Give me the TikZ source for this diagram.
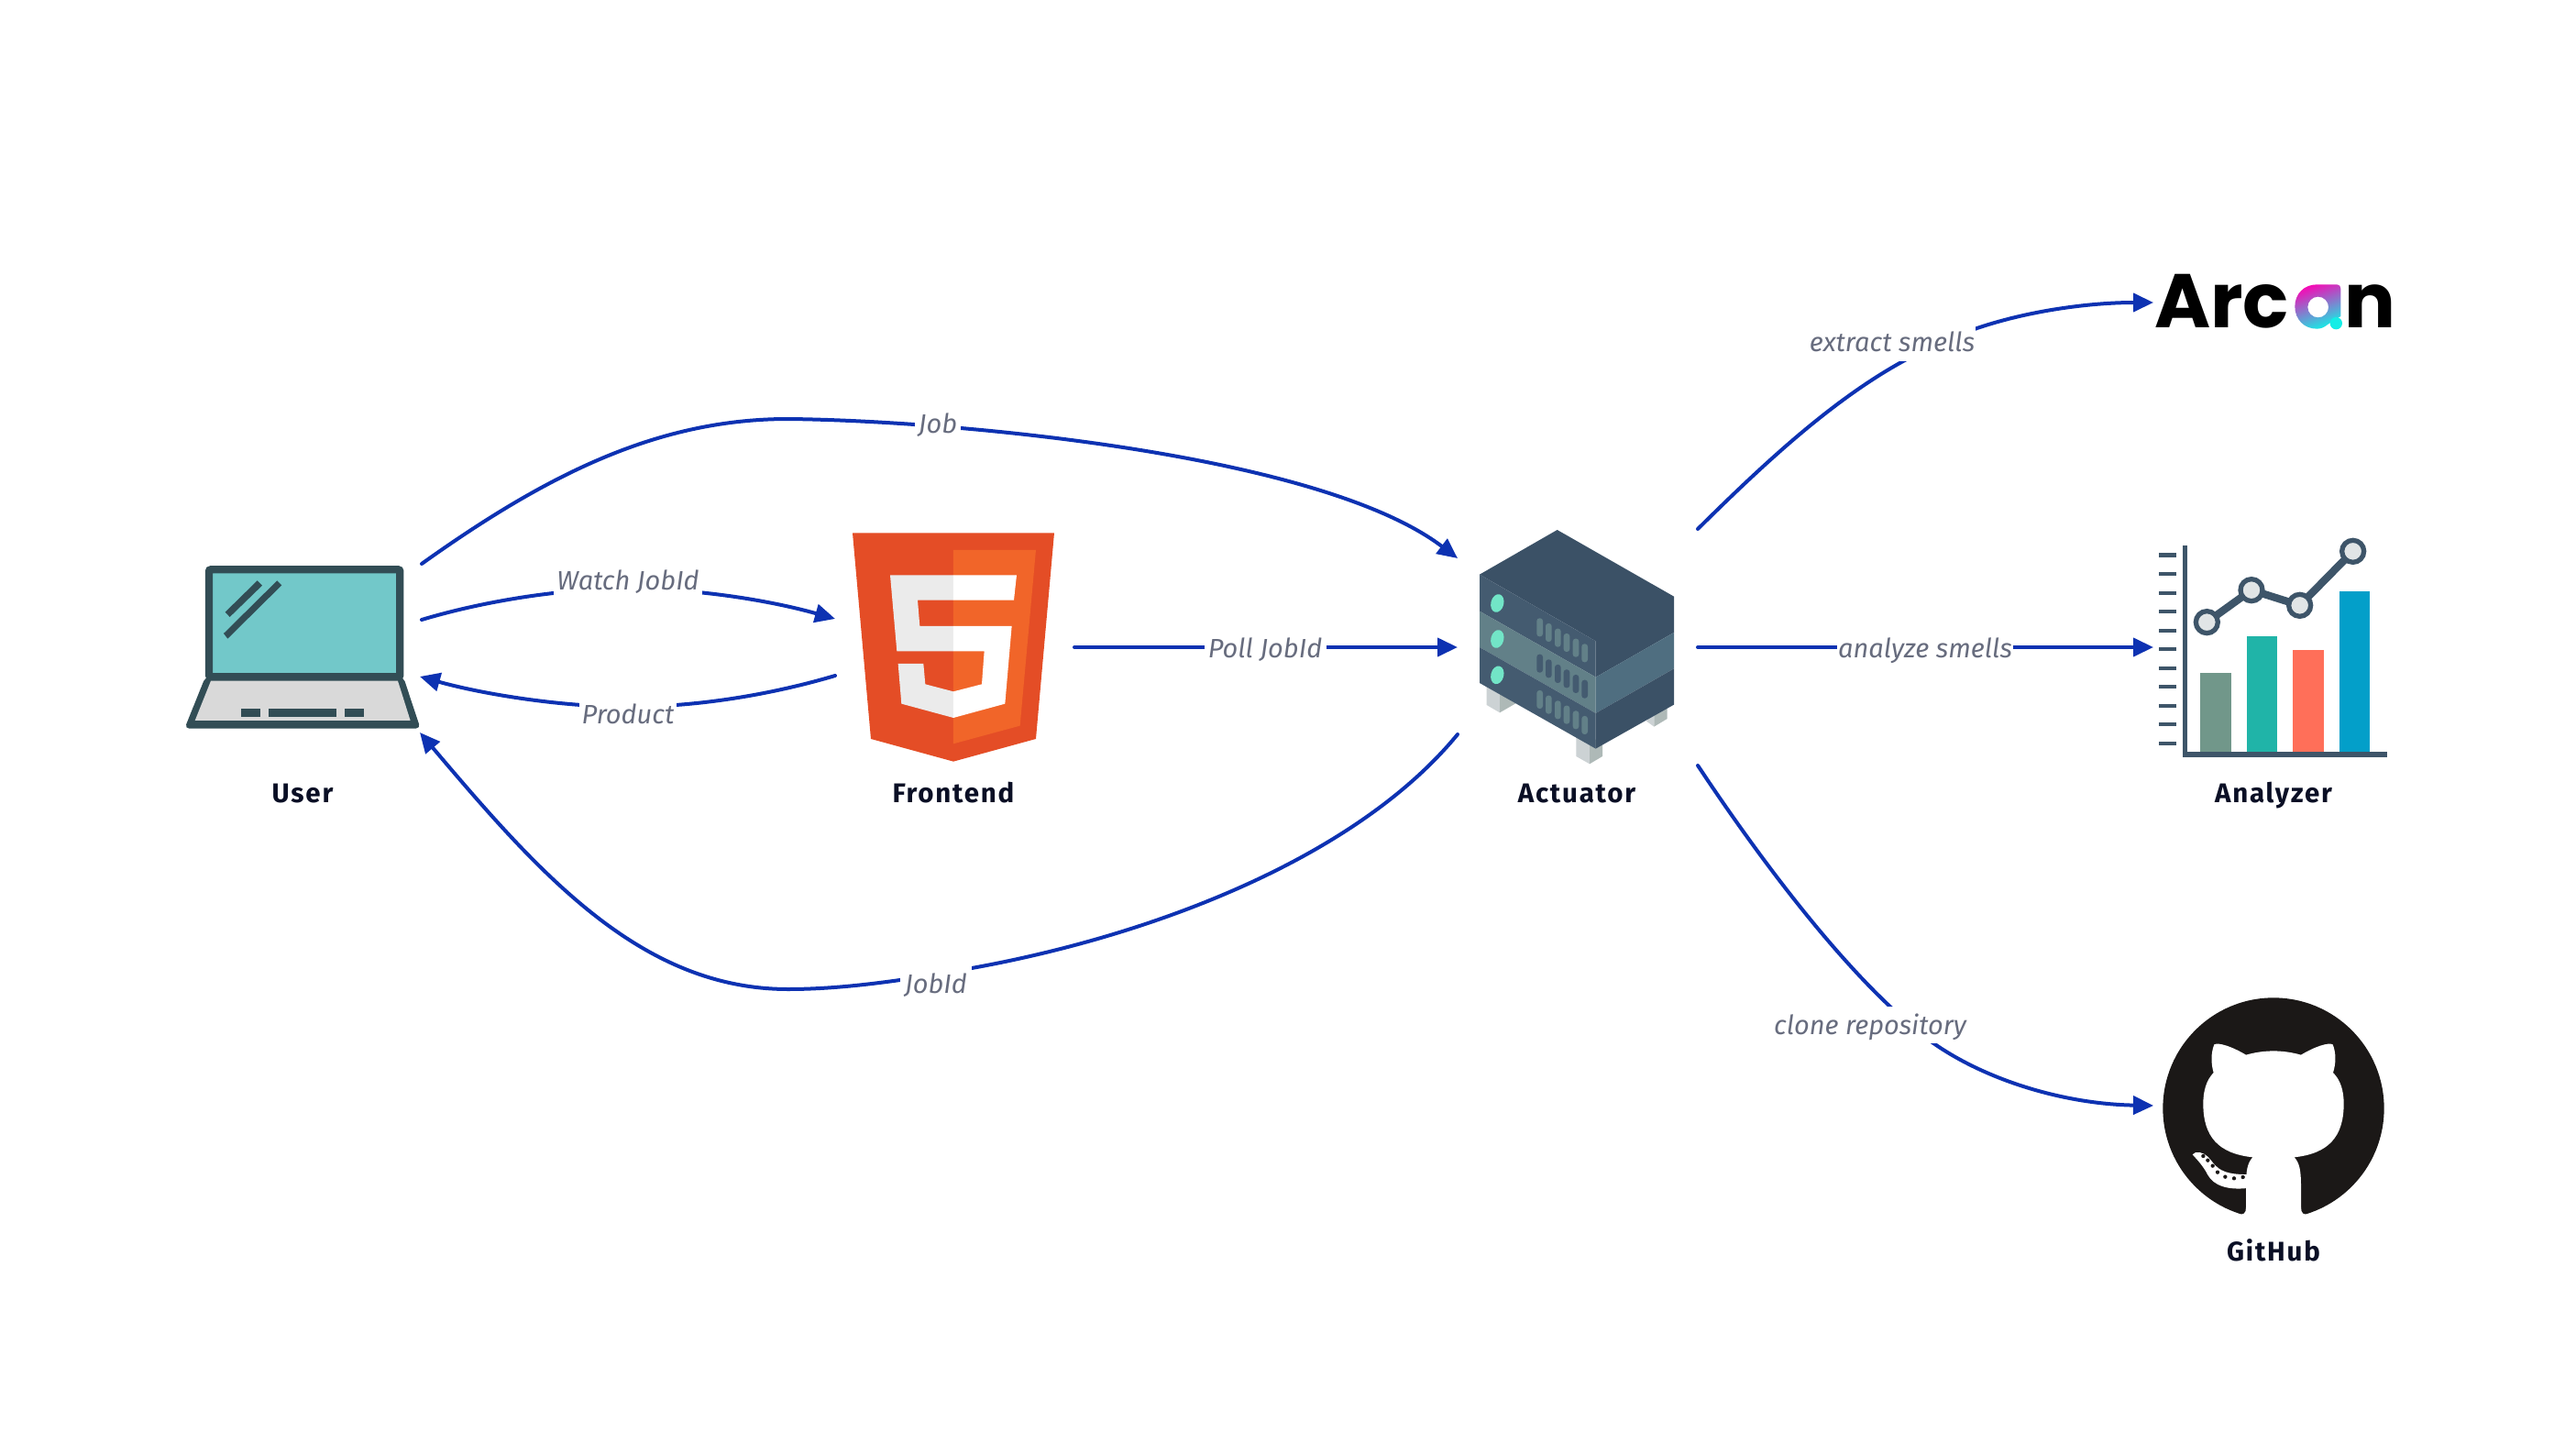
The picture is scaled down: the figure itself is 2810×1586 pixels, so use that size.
\documentclass[tikz,border=0pt]{standalone}
\usepackage{fontspec}
\setmainfont{Fira Sans}[BoldFeatures={LetterSpace=6}]
\newfontfamily\arcanfont{Poppins}[UprightFont=* Bold]
\usetikzlibrary{arrows.meta,calc}
\definecolor{edgeblue}{HTML}{0D32B2}
\definecolor{namecol}{HTML}{0A0F25}
\definecolor{labelcol}{HTML}{676C7E}
\definecolor{lapdark}{HTML}{324D55}
\definecolor{lapscreen}{HTML}{72C8C9}
\definecolor{lapbase}{HTML}{D9D9D9}
\definecolor{htmla}{HTML}{E44D26}
\definecolor{htmlb}{HTML}{F16529}
\definecolor{htmlc}{HTML}{EBEBEB}
\definecolor{srvtop}{HTML}{3B5166}
\definecolor{srvleft}{HTML}{445B70}
\definecolor{srvmidl}{HTML}{628088}
\definecolor{srvmidr}{HTML}{4F6E80}
\definecolor{srvled}{HTML}{72E5C7}
\definecolor{feeta}{HTML}{CCD2D4}
\definecolor{feetb}{HTML}{AEB9B7}
\definecolor{chartdark}{HTML}{3E5569}
\definecolor{bara}{HTML}{71978A}
\definecolor{barb}{HTML}{20B4A8}
\definecolor{barc}{HTML}{FF6F59}
\definecolor{bard}{HTML}{039FC9}
\definecolor{dotfill}{HTML}{E1E5E6}
\definecolor{ghblack}{HTML}{1B1817}
\definecolor{arcmag}{HTML}{F50BB5}
\definecolor{arccy}{HTML}{14EDE6}
\tikzset{
  flow/.style={draw=edgeblue,line width=4pt,line cap=round,-{Triangle[length=22pt,width=20pt]}},
  edgetext/.style={fill=white,inner xsep=0pt,inner ysep=6pt,text height=24pt,text depth=4pt,text=labelcol,font=\fontsize{29}{32}\selectfont\itshape},
  nametext/.style={anchor=base,text=namecol,inner sep=0pt,font=\fontsize{29.5}{32}\selectfont\bfseries},
  iconbox/.style={inner sep=0pt,outer sep=0pt},
}
\begin{document}
\begin{tikzpicture}[x=1pt,y=-1pt]
\useasboundingbox (0,0) rectangle (2810,1586);
\fill[white] (0,0) rectangle (2810,1586);

% invisible boxes for the icons
\node[iconbox,minimum width=256pt,minimum height=184pt] (user) at (332,707) {};
\node[iconbox,minimum width=261pt,minimum height=250pt] (frontend) at (1041.5,706) {};
\node[iconbox,minimum width=262pt,minimum height=258pt] (actuator) at (1721,706) {};
\node[iconbox,minimum width=260pt,minimum height=70pt] (arcan) at (2479,330) {};
\node[iconbox,minimum width=262pt,minimum height=250pt] (analyzer) at (2480,706) {};
\node[iconbox,minimum width=262pt,minimum height=250pt] (github) at (2480,1206) {};

% laptop
\begin{scope}[shift={(180,590)},x=0.3333pt,y=-0.3333pt]
\draw[lapdark,fill=lapscreen,line width=8.3pt,rounded corners=2pt] (144,94) rectangle (769,445);
\fill[lapdark,rounded corners=5pt] (132,445) -- (780,445) -- (836,614) -- (64,614) -- cycle;
\fill[lapbase] (150,458) -- (762,458) -- (803,588) -- (98,588) -- cycle;
\fill[lapdark] (367,130) -- (382,145) -- (205,320) -- (192,303) -- cycle;
\fill[lapdark] (302,130) -- (318,146) -- (212,249) -- (197,233) -- cycle;
\fill[lapdark] (248,549) rectangle (313,576);
\fill[lapdark] (339,549) rectangle (561,576);
\fill[lapdark] (587,549) rectangle (652,576);
\end{scope}

% HTML5 shield
\begin{scope}[shift={(900,560)},x=0.3333pt,y=-0.3333pt]
\fill[htmla] (90,64) -- (750,64) -- (690,738) -- (420,812) -- (150,738) -- cycle;
\fill[htmlb] (420,120) -- (690,120) -- (638,695) -- (420,754) -- cycle;
\fill[htmlc] (213,202) -- (420,202) -- (420,284) -- (303,284) -- (310,369) -- (420,369) -- (420,451) -- (235,451) -- cycle;
\fill[htmlc] (239,492) -- (322,492) -- (328,559) -- (420,583) -- (420,669) -- (250,623) -- cycle;
\fill[white] (420,202) -- (627,202) -- (618,284) -- (420,284) -- cycle;
\fill[white] (420,369) -- (611,369) -- (589,623) -- (420,669) -- (420,583) -- (513,559) -- (521,451) -- (420,451) -- cycle;
\end{scope}

% server
\begin{scope}[shift={(1600,560)},x=0.3333pt,y=-0.3333pt]
\fill[feeta] (65,560) -- (65,627) -- (108,652) -- (108,590) -- cycle;
\fill[feetb] (108,590) -- (160,622) -- (108,652) -- cycle;
\fill[feeta] (358,700) -- (358,795) -- (402,820) -- (402,740) -- cycle;
\fill[feetb] (402,740) -- (444,740) -- (444,795) -- (402,820) -- cycle;
\fill[feeta] (588,680) -- (613,698) -- (613,650) -- cycle;
\fill[feetb] (613,650) -- (656,620) -- (656,672) -- (613,698) -- cycle;
\fill[srvtop] (42,200) -- (296,54) -- (678,272) -- (678,390) -- (422,536) -- (422,418) -- cycle;
\fill[srvleft] (42,200) -- (422,418) -- (422,536) -- (42,320) -- cycle;
\fill[srvmidl] (42,320) -- (422,536) -- (422,654) -- (42,438) -- cycle;
\fill[srvmidr] (422,536) -- (678,390) -- (678,508) -- (422,654) -- cycle;
\fill[srvleft] (42,438) -- (422,654) -- (422,770) -- (42,555) -- cycle;
\fill[srvtop] (422,654) -- (678,508) -- (678,626) -- (422,770) -- cycle;
\foreach \ly in {294,411,529}
  \fill[srvled] (100,\ly) ellipse [x radius=21,y radius=30,rotate=-14];
\foreach \sx/\sy in {239/373,268/390,298/407,327/423,357/440,386/457}{
  \fill[srvmidl,rounded corners=3pt] (\sx-10,\sy-30) rectangle (\sx+10,\sy+30);
  \fill[srvleft,rounded corners=3pt] (\sx-10,\sy+88) rectangle (\sx+10,\sy+148);
  \fill[srvmidl,rounded corners=3pt] (\sx-10,\sy+206) rectangle (\sx+10,\sy+266);
}
\end{scope}

% Arcan logo
\node[anchor=base west,inner sep=0pt,font=\fontsize{83}{90}\arcanfont,text=black] (arcanword) at (2350,358) {Arc\textcolor{white}{a}\kern4ptn};
\begin{scope}[shift={(2340,270)},x=0.3333pt,y=-0.3333pt]
\shade[even odd rule,left color=arcmag,right color=arccy,shading angle=20]
  (562,121) -- (628,121) .. controls (636,121) and (640,127) .. (640,135) -- (640,225) -- (600,250)
  .. controls (585,262) and (575,266) .. (562,266)
  .. controls (520,266) and (490,235) .. (490,193)
  .. controls (490,152) and (520,121) .. (562,121) -- cycle
  (566,195) circle [radius=34];
\fill[arccy] (625,248) circle [radius=20];
\end{scope}

% chart
\begin{scope}[shift={(2340,570)},x=0.3333pt,y=-0.3333pt]
\foreach \ty in {107,169,231,292,354,415,477,538,600,661,723}
  \fill[chartdark] (46,\ty-6.5) rectangle (102,\ty+6.5);
\fill[bara] (181,491) rectangle (281,750);
\fill[barb] (332,372) rectangle (432,750);
\fill[barc] (484,418) rectangle (584,750);
\fill[bard] (636,226) rectangle (735,750);
\fill[chartdark] (123,74) rectangle (137,767);
\fill[chartdark] (123,750) rectangle (793,767);
\draw[chartdark,line width=8.3pt] (202,326) -- (348,221) -- (506,271) -- (680,94);
\foreach \px/\py in {202/326,348/221,506/271,680/94}
  \draw[chartdark,fill=dotfill,line width=5.3pt] (\px,\py) circle [radius=36];
\end{scope}

% GitHub mark
\begin{scope}[shift={(2340,1080)},x=0.3333pt,y=-0.3333pt]
\fill[ghblack] (420,387) circle [radius=362];
\fill[white] (330,760) -- (330,640) .. controls (330,590) and (335,565) .. (352,547)
  .. controls (240,535) and (190,480) .. (190,372)
  .. controls (190,330) and (200,295) .. (224,270)
  .. controls (215,240) and (215,205) .. (226,178)
  .. controls (240,170) and (285,185) .. (330,212)
  .. controls (390,195) and (450,195) .. (510,212)
  .. controls (555,185) and (600,170) .. (614,178)
  .. controls (625,205) and (625,240) .. (615,270)
  .. controls (640,295) and (650,330) .. (650,372)
  .. controls (650,480) and (600,535) .. (488,547)
  .. controls (505,565) and (510,590) .. (510,640) -- (510,760) -- cycle;
\fill[white] (300,733) .. controls (322,738) and (330,730) .. (330,712) -- (330,760) -- (300,760) -- cycle;
\fill[white] (540,733) .. controls (518,738) and (510,730) .. (510,712) -- (510,760) -- (540,760) -- cycle;
\fill[white] (155,538) .. controls (165,525) and (190,530) .. (205,545)
  .. controls (230,570) and (235,605) .. (335,603) -- (335,648)
  .. controls (270,655) and (225,640) .. (205,605)
  .. controls (190,575) and (170,555) .. (155,538) -- cycle;
\foreach \dx/\dy in {190/543,205/557,221/575,237/596,262/611,291/616,320/612}
  \fill[ghblack] (\dx,\dy) circle [radius=6.5];
\end{scope}

% connectors
\draw[flow] (user.north east) .. controls (600,515) and (720,457) .. (860,457)
  .. controls (1040,459) and (1440,495) .. ([yshift=97pt]actuator.west);
\draw[flow] ([yshift=31pt]user.east) .. controls (530,655) and (615,642) .. (685,642)
  .. controls (760,642) and (840,655) .. ([yshift=31pt]frontend.west);
\draw[flow] ([yshift=-31pt]frontend.west) .. controls (840,758) and (760,771) .. (685,771)
  .. controls (615,771) and (530,758) .. ([xshift=-2pt,yshift=-31pt]user.east);
\draw[flow] (frontend.east) -- (actuator.west);
\draw[flow] ([yshift=-95pt]actuator.west) .. controls (1480,935) and (1260,1020) .. (1060,1056)
  .. controls (990,1069) and (920,1079) .. (860,1079)
  .. controls (700,1079) and (590,955) .. ([xshift=-2pt]user.south east);
\draw[flow] (actuator.north east) .. controls (1930,500) and (2020,415) .. (2115,375)
  .. controls (2180,343) and (2270,330) .. (arcan.west);
\draw[flow] (actuator.east) -- (analyzer.west);
\draw[flow] (actuator.south east) .. controls (1925,945) and (2010,1055) .. (2083,1117)
  .. controls (2140,1170) and (2240,1204) .. (github.west);

% connector labels
\node[edgetext,minimum width=50pt] (lJob) at (1023,462) {Job};
\node[edgetext,minimum width=162pt] (lWatch) at (685,633) {Watch JobId};
\node[edgetext,minimum width=106pt] (lProduct) at (685,779) {Product};
\node[edgetext,minimum width=133pt] (lPoll) at (1380,707) {Poll JobId};
\node[edgetext,minimum width=78pt] (lJobId) at (1021,1073) {JobId};
\node[edgetext,minimum width=182pt] (lExtract) at (2064,374) {extract smells};
\node[edgetext,minimum width=192pt] (lAnalyze) at (2100,707) {analyze smells};
\node[edgetext,minimum width=208pt] (lClone) at (2040,1118) {clone repository};

% names
\node[nametext] (nUser) at (330,875) {User};
\node[nametext] (nFrontend) at (1040,875) {Frontend};
\node[nametext] (nActuator) at (1720,875) {Actuator};
\node[nametext] (nAnalyzer) at (2480,875) {Analyzer};
\node[nametext] (nGitHub) at (2480,1375) {GitHub};
\end{tikzpicture}
\end{document}
